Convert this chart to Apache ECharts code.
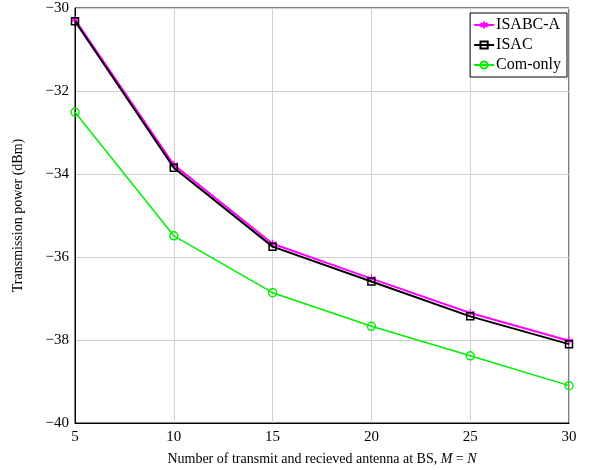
<!DOCTYPE html>
<html>
<head>
<meta charset="utf-8">
<script src="https://cdn.jsdelivr.net/npm/echarts@6/dist/echarts.min.js"></script>
<style>
  html, body { margin: 0; padding: 0; background: #fff; }
  #chart { width: 590px; height: 470px; }
</style>
</head>
<body>
<div id="chart"></div>
<script>
// antennas M = N
const antennas = [5, 10, 15, 20, 25, 30];
// transmission power (dBm)
const isabcA = [-30.28, -33.78, -35.68, -36.52, -37.35, -38.02];
const isac = [-30.32, -33.85, -35.75, -36.59, -37.43, -38.1];
const comOnly = [-32.51, -35.49, -36.86, -37.67, -38.38, -39.1];
const yTicks = [-40, -38, -36, -34, -32, -30];

const font = 'Liberation Serif, DejaVu Serif, serif';
const star = 'path://M0,-10L0,10M-8.66,-5L8.66,5M-8.66,5L8.66,-5';

const pairs = arr => antennas.map((x, i) => [x, arr[i]]);

const chart = echarts.init(document.getElementById('chart'));
chart.setOption({
  animation: false,
  textStyle: { fontFamily: font },
  grid: {
    left: 75, right: 21, top: 8, bottom: 47, outerBoundsMode: 'none',
    show: true, borderColor: '#000', borderWidth: 1
  },
  legend: {
    right: 23, top: 13, orient: 'vertical',
    backgroundColor: '#fff', borderColor: '#000', borderWidth: 1,
    padding: [4, 6, 4, 3], itemGap: 4, itemWidth: 20, itemHeight: 9,
    textStyle: { fontFamily: font, fontSize: 16, color: '#000', padding: [0, 0, 0, -3] },
    data: ['ISABC-A', 'ISAC', 'Com-only']
  },
  xAxis: {
    type: 'value', min: 5, max: 30, interval: 5,
    axisLine: { lineStyle: { color: '#000' } },
    axisTick: { show: false },
    splitLine: { lineStyle: { color: '#d0d0d0' } },
    axisLabel: { color: '#000', fontSize: 15, margin: 7 },
    name: 'Number of transmit and recieved antenna at BS, {i|M} = {i|N}',
    nameLocation: 'middle', nameGap: 29,
    nameTextStyle: {
      color: '#000', fontSize: 14, fontFamily: font,
      rich: { i: { fontStyle: 'italic', fontSize: 14, fontFamily: font, color: '#000' } }
    }
  },
  yAxis: {
    type: 'value', min: -40, max: -30, interval: 2,
    axisLine: { show: true, lineStyle: { color: '#000' } },
    axisTick: { show: false },
    splitLine: { lineStyle: { color: '#d0d0d0' } },
    axisLabel: {
      color: '#000', fontSize: 15, margin: 6,
      formatter: v => (yTicks.includes(v) ? String(v).replace('-', '\u2212') : '')
    },
    name: 'Transmission power (dBm)',
    nameLocation: 'middle', nameGap: 50,
    nameTextStyle: { color: '#000', fontSize: 14, fontFamily: font }
  },
  series: [
    {
      name: 'ISABC-A', type: 'line', data: pairs(isabcA), z: 3,
      symbol: star, symbolSize: 8,
      lineStyle: { color: '#ff00ff', width: 2 },
      itemStyle: { color: '#ff00ff', borderColor: '#ff00ff', borderWidth: 1.2 }
    },
    {
      name: 'ISAC', type: 'line', data: pairs(isac), z: 4,
      symbol: 'rect', symbolSize: 7,
      lineStyle: { color: '#000', width: 2 },
      itemStyle: { color: 'rgba(0,0,0,0)', borderColor: '#000', borderWidth: 1.5 }
    },
    {
      name: 'Com-only', type: 'line', data: pairs(comOnly), z: 2,
      symbol: 'circle', symbolSize: 8,
      lineStyle: { color: '#00ee00', width: 1.5 },
      itemStyle: { color: 'rgba(0,0,0,0)', borderColor: '#00ee00', borderWidth: 1.5 }
    }
  ]
});
</script>
</body>
</html>
